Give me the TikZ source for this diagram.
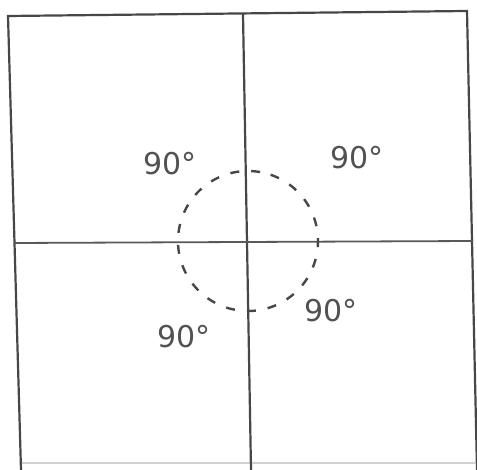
\documentclass[tikz,border=0pt]{standalone}
\usepackage{fontspec}
\setmainfont{DejaVu Sans}
\begin{document}
\begin{tikzpicture}[x=1pt,y=-1pt,
  frame/.style={draw=black!72,line width=2.2pt,line cap=round},
  faint/.style={draw=black!18,line width=1.2pt},
  guide/.style={draw=black!65,line width=1.8pt},
  dashring/.style={circle,draw=black!72,line width=2.4pt,dash pattern=on 9pt off 12pt,minimum size=140pt,inner sep=0pt},
  anglelabel/.style={text=black!68,font=\fontsize{30}{30}\selectfont,inner sep=0pt}]
\useasboundingbox (0,0) rectangle (477,470);
\fill[white] (0,0) rectangle (477,470);
% corners and line ends
\coordinate (tl) at (8,16);
\coordinate (tr) at (467,11);
\coordinate (bl) at (21,470);
\coordinate (br) at (477,470);
\coordinate (bfl) at (22,463);
\coordinate (bfr) at (476,463);
\coordinate (vt) at (243,14);
\coordinate (vb) at (251,470);
\coordinate (hl) at (14,243);
\coordinate (hr) at (473,241);
% frame
\draw[frame] (bl) -- (tl) -- (tr) -- (br);
\draw[faint] (bfl) -- (bfr);
% cross
\draw[frame] (vt) -- (vb);
\draw[guide] (hl) -- (hr);
% dashed circle
\node[dashring,rotate=80] (ring) at (248,241) {};
% labels
\node[anglelabel] (ul) at (170,164) {90°};
\node[anglelabel] (ur) at (357,158) {90°};
\node[anglelabel] (ll) at (184,337) {90°};
\node[anglelabel] (lr) at (331,311) {90°};
\end{tikzpicture}
\end{document}
